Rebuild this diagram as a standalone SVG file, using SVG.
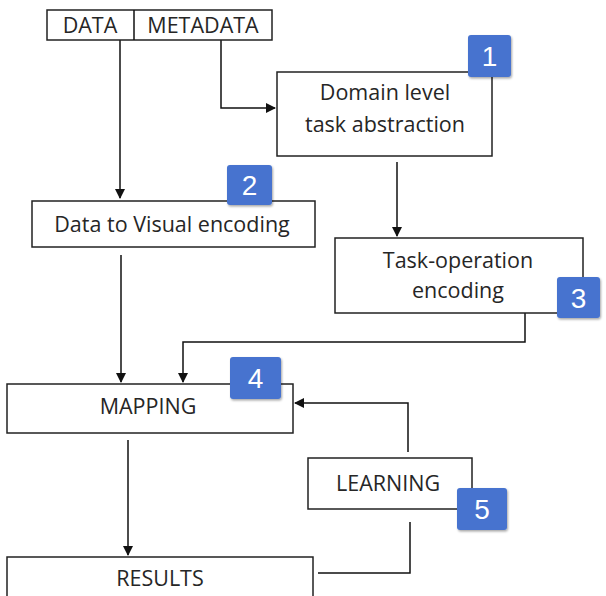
<svg xmlns="http://www.w3.org/2000/svg" width="606" height="596" viewBox="0 0 606 596">
<defs>
<marker id="ah" markerWidth="10" markerHeight="10" refX="9" refY="5" orient="auto" markerUnits="userSpaceOnUse">
<path d="M0,0 L10,5 L0,10 Z" fill="#111"/>
</marker>
<filter id="sh" x="-20%" y="-20%" width="150%" height="150%">
<feDropShadow dx="1" dy="1.5" stdDeviation="1.2" flood-color="#000" flood-opacity="0.35"/>
</filter>
</defs>
<style>
.box{fill:#fff;stroke:#222;stroke-width:1.5}
.t{font-family:"Open Sans","Liberation Sans",sans-serif;font-size:21.5px;fill:#262626;text-anchor:middle}
.badge{fill:#4673cf;filter:url(#sh)}
.bn{font-family:"Liberation Sans",Arial,sans-serif;font-size:28px;fill:#fff;text-anchor:middle}
.c{fill:none;stroke:#111;stroke-width:1.5}
</style>
<rect width="606" height="596" fill="#fff"/>
<g id="connectors">
<path class="c" d="M120,40 V198" marker-end="url(#ah)"/>
<path class="c" d="M221,40 V108 H275" marker-end="url(#ah)"/>
<path class="c" d="M397,162 V236" marker-end="url(#ah)"/>
<path class="c" d="M121,255 V382" marker-end="url(#ah)"/>
<path class="c" d="M525,313 V342 H183 V382" marker-end="url(#ah)"/>
<path class="c" d="M408,452 V403 H295" marker-end="url(#ah)"/>
<path class="c" d="M128,440 V555" marker-end="url(#ah)"/>
<path class="c" d="M410,522 V573 H318"/>
</g>
<g id="data-metadata">
<rect class="box" x="47" y="10" width="225" height="30"/>
<line class="c" x1="134" y1="10" x2="134" y2="40" stroke="#222"/>
<text class="t" x="90" y="33">DATA</text>
<text class="t" x="203" y="33">METADATA</text>
</g>
<g id="domain">
<rect class="box" x="277" y="72" width="215" height="84"/>
<text class="t" x="385" y="100">Domain level</text>
<text class="t" x="385" y="132">task abstraction</text>
</g>
<g id="badge1">
<rect class="badge" x="468" y="35" width="43" height="42" rx="3"/>
<text class="bn" x="489.5" y="66">1</text>
</g>
<g id="visual">
<rect class="box" x="32" y="201" width="283" height="46"/>
<text class="t" x="172" y="232">Data to Visual encoding</text>
</g>
<g id="badge2">
<rect class="badge" x="227" y="165" width="45" height="40" rx="3"/>
<text class="bn" x="249.5" y="195">2</text>
</g>
<g id="task">
<rect class="box" x="335" y="238" width="248" height="75"/>
<text class="t" x="458" y="268">Task-operation</text>
<text class="t" x="458" y="298">encoding</text>
</g>
<g id="badge3">
<rect class="badge" x="557" y="277" width="43" height="41" rx="3"/>
<text class="bn" x="578.5" y="308">3</text>
</g>
<g id="mapping">
<rect class="box" x="7" y="384" width="286" height="49"/>
<text class="t" x="148" y="414">MAPPING</text>
</g>
<g id="badge4">
<rect class="badge" x="230" y="357" width="51" height="42" rx="3"/>
<text class="bn" x="255.5" y="388">4</text>
</g>
<g id="learning">
<rect class="box" x="308" y="458" width="164" height="51"/>
<text class="t" x="388" y="491">LEARNING</text>
</g>
<g id="badge5">
<rect class="badge" x="457" y="488" width="50" height="42" rx="3"/>
<text class="bn" x="482" y="519">5</text>
</g>
<g id="results">
<rect class="box" x="7" y="557" width="306" height="50"/>
<text class="t" x="160" y="586">RESULTS</text>
</g>
</svg>
